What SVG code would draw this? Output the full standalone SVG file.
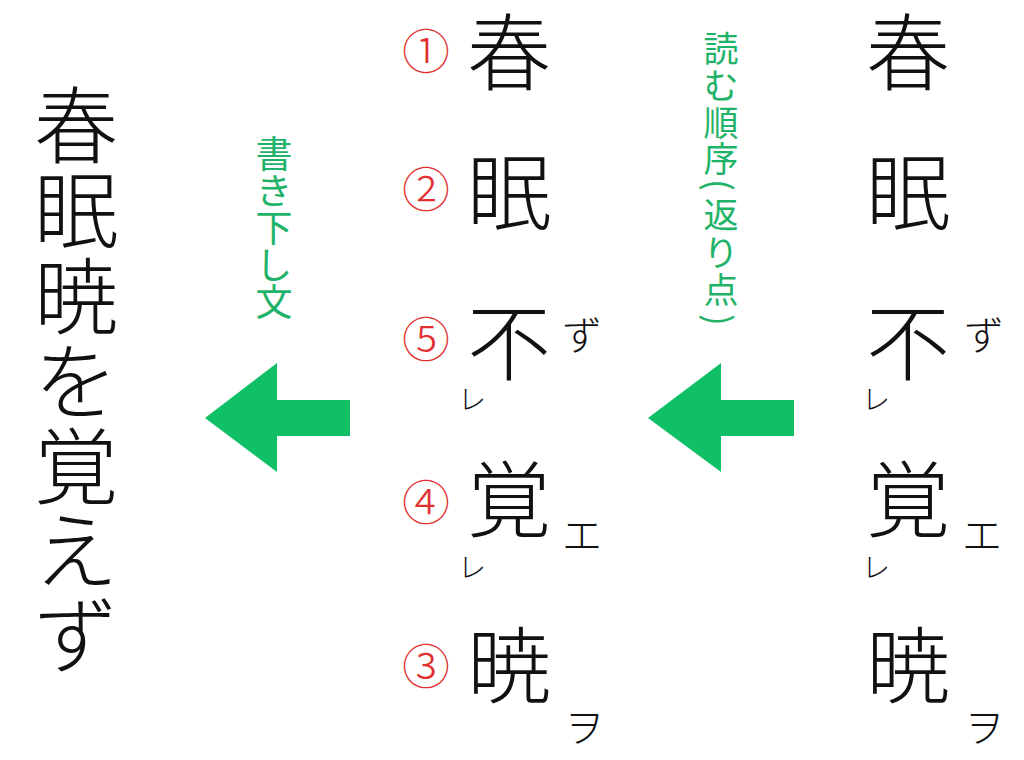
<svg xmlns="http://www.w3.org/2000/svg" width="1024" height="760" viewBox="0 0 1024 760">
<style>
.k{font-family:"Noto Sans CJK JP","Noto Sans CJK SC",sans-serif;font-weight:300;fill:#111;text-anchor:middle}
.big{font-size:84px}
.sm{font-size:40px}
.re{font-size:28px}
.num{font-family:"Noto Sans CJK JP",sans-serif;font-size:48px;fill:#e23030;text-anchor:middle;font-weight:300}
.lbl{font-family:"Noto Sans CJK JP",sans-serif;fill:#1fb36a;font-weight:400}
.vl{writing-mode:vertical-rl}
.c{font-size:35px;text-anchor:middle;dominant-baseline:central}
.arrow{fill:#10c066}
</style>
<rect width="1024" height="760" fill="#ffffff"/>
<g id="kakikudashi">
<text class="k big" x="76" y="157">春</text>
<text class="k big" x="76" y="242">眠</text>
<text class="k big" x="76" y="328">暁</text>
<text class="k big" x="76" y="413">を</text>
<text class="k big" x="76" y="498">覚</text>
<text class="k big" x="76" y="582">え</text>
<text class="k big" x="76" y="667">ず</text>
</g>
<g id="label-kakikudashi">
<text class="lbl vl" x="274" y="135" style="font-size:37px">書き下し文</text>
</g>
<g id="label-order">
<text class="lbl c" x="721" y="46">読</text>
<text class="lbl c" x="721" y="83">む</text>
<text class="lbl c" x="721" y="120">順</text>
<text class="lbl c" x="721" y="156">序</text>
<text class="lbl c" x="721" y="185" transform="rotate(90 721 185)">(</text>
<text class="lbl c" x="721" y="212">返</text>
<text class="lbl c" x="721" y="250">り</text>
<text class="lbl c" x="721" y="287">点</text>
<text class="lbl c" x="721" y="320" transform="rotate(90 721 320)">)</text>
</g>
<g id="ordered">
<text class="num" x="426" y="69">①</text>
<text class="num" x="426" y="207">②</text>
<text class="num" x="426" y="357">⑤</text>
<text class="num" x="426" y="520">④</text>
<text class="num" x="426" y="684">③</text>
<text class="k big" x="509" y="84">春</text>
<text class="k big" x="509" y="224">眠</text>
<text class="k big" x="509" y="374">不</text>
<text class="k big" x="509" y="531">覚</text>
<text class="k big" x="509" y="697">暁</text>
<text class="k sm" x="582" y="350">ず</text>
<text class="k re" x="472" y="410">レ</text>
<text class="k sm" x="582" y="550">エ</text>
<text class="k re" x="472" y="578">レ</text>
<text class="k sm" x="584" y="742">ヲ</text>
</g>
<g id="original">
<text class="k big" x="908" y="84">春</text>
<text class="k big" x="908" y="224">眠</text>
<text class="k big" x="908" y="374">不</text>
<text class="k big" x="908" y="531">覚</text>
<text class="k big" x="908" y="697">暁</text>
<text class="k sm" x="984" y="350">ず</text>
<text class="k re" x="876" y="410">レ</text>
<text class="k sm" x="982" y="550">エ</text>
<text class="k re" x="876" y="578">レ</text>
<text class="k sm" x="984" y="742">ヲ</text>
</g>
<g id="connectors">
<polygon class="arrow" points="205,418 277,363 277,400 350,400 350,436 277,436 277,472"/>
<polygon class="arrow" points="648,418 721,363 721,400 794,400 794,436 721,436 721,472"/>
</g>
</svg>
